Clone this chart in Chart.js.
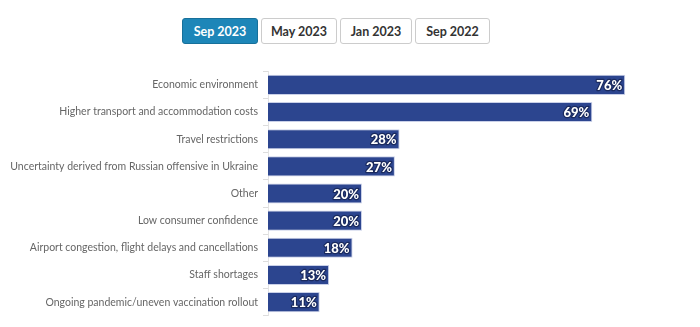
<!DOCTYPE html>
<html>
<head>
<meta charset="utf-8">
<script src="https://cdn.jsdelivr.net/npm/chart.js@4.4.0/dist/chart.umd.min.js"></script>
<style>
  body { margin: 0; background: #fff; font-family: Lato, "Open Sans", sans-serif; }
  .tabs { position: absolute; top: 18px; left: 182px; display: flex; gap: 3px; }
  .tabs button {
    height: 26px; padding: 0; font: bold 12.5px Lato, sans-serif; white-space: nowrap;
    background: #fff; color: #333; border: 1px solid #ccc; border-radius: 3px;
  }
  .tabs button.on { background: #1d86b8; color: #fff; border-color: #17709a; }
  #wrap { position: absolute; left: 0; top: 60px; width: 700px; height: 267px; }
</style>
</head>
<body>
<div class="tabs">
  <button class="on" style="width:76px">Sep 2023</button>
  <button style="width:76px">May 2023</button>
  <button style="width:72px">Jan 2023</button>
  <button style="width:75px">Sep 2022</button>
</div>
<div id="wrap"><canvas id="chart"></canvas></div>
<script>
// kategori dan nilai (persen)
const categories = [
  'Economic environment',
  'Higher transport and accommodation costs',
  'Travel restrictions',
  'Uncertainty derived from Russian offensive in Ukraine',
  'Other',
  'Low consumer confidence',
  'Airport congestion, flight delays and cancellations',
  'Staff shortages',
  'Ongoing pandemic/uneven vaccination rollout'
];
const values = [76, 69, 28, 27, 20, 20, 18, 13, 11];

// label putih di ujung bar
const barLabels = {
  id: 'barLabels',
  afterDatasetsDraw(chart) {
    const ctx = chart.ctx;
    const meta = chart.getDatasetMeta(0);
    ctx.save();
    ctx.font = '900 13px Lato, sans-serif';
    ctx.textAlign = 'right';
    ctx.textBaseline = 'middle';
    ctx.lineJoin = 'round';
    meta.data.forEach((bar, i) => {
      const txt = values[i] + '%';
      ctx.lineWidth = 2.5;
      ctx.strokeStyle = '#1a2a5e';
      ctx.strokeText(txt, bar.x - 3, bar.y + 1);
      ctx.fillStyle = '#fff';
      ctx.fillText(txt, bar.x - 3, bar.y + 1);
    });
    ctx.restore();
  }
};

new Chart(document.getElementById('chart'), {
  type: 'bar',
  data: {
    labels: categories,
    datasets: [{
      data: values,
      backgroundColor: '#2c458f',
      borderColor: '#c9d0e8',
      borderWidth: 1,
      borderSkipped: 'start',
      categoryPercentage: 1,
      barPercentage: 0.74
    }]
  },
  options: {
    indexAxis: 'y',
    responsive: true,
    maintainAspectRatio: false,
    animation: false,
    layout: { padding: { top: 6, right: 56, bottom: 10, left: 0 } },
    plugins: {
      legend: { display: false },
      tooltip: { enabled: false }
    },
    scales: {
      x: {
        display: false,
        min: 0,
        max: 80
      },
      y: {
        afterFit(scale) { scale.width = 268; },
        grid: {
          drawOnChartArea: false,
          color: '#ddd',
          tickLength: 5
        },
        border: { color: '#e3e3e3' },
        ticks: {
          color: '#666',
          padding: 5,
          font: { family: 'Lato', size: 10.5 }
        }
      }
    }
  },
  plugins: [barLabels]
});
</script>
</body>
</html>
